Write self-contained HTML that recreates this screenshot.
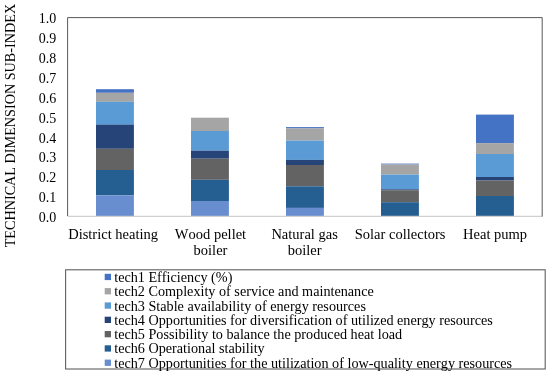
<!DOCTYPE html><html><head><meta charset="utf-8"><style>html,body{margin:0;padding:0;background:#fff;}text{font-kerning:none;}svg{will-change:transform;}svg{display:block;}</style></head><body>
<svg width="550" height="375" viewBox="0 0 550 375">
<rect width="550" height="375" fill="#fff"/>
<rect x="96.0" y="89.2" width="37.9" height="3.6" fill="#4472C4"/>
<rect x="96.0" y="92.8" width="37.9" height="9.0" fill="#A5A5A5"/>
<rect x="96.0" y="101.8" width="37.9" height="23.0" fill="#5B9BD5"/>
<rect x="96.0" y="124.7" width="37.9" height="24.1" fill="#264478"/>
<rect x="96.0" y="148.8" width="37.9" height="21.2" fill="#636363"/>
<rect x="96.0" y="170" width="37.9" height="25.3" fill="#255E91"/>
<rect x="96.0" y="195.3" width="37.9" height="20.9" fill="#698ED0"/>
<rect x="191.0" y="117.7" width="37.9" height="13.3" fill="#A5A5A5"/>
<rect x="191.0" y="131" width="37.9" height="19.7" fill="#5B9BD5"/>
<rect x="191.0" y="150.7" width="37.9" height="8.0" fill="#264478"/>
<rect x="191.0" y="158.7" width="37.9" height="21.1" fill="#636363"/>
<rect x="191.0" y="179.8" width="37.9" height="21.2" fill="#255E91"/>
<rect x="191.0" y="201" width="37.9" height="15.2" fill="#698ED0"/>
<rect x="286.0" y="127.1" width="37.9" height="1.3" fill="#4472C4"/>
<rect x="286.0" y="128.4" width="37.9" height="12.2" fill="#A5A5A5"/>
<rect x="286.0" y="140.6" width="37.9" height="19.3" fill="#5B9BD5"/>
<rect x="286.0" y="159.9" width="37.9" height="5.1" fill="#264478"/>
<rect x="286.0" y="165" width="37.9" height="21.3" fill="#636363"/>
<rect x="286.0" y="186.3" width="37.9" height="21.6" fill="#255E91"/>
<rect x="286.0" y="207.9" width="37.9" height="8.3" fill="#698ED0"/>
<rect x="381.0" y="163.6" width="37.9" height="0.9" fill="#4472C4"/>
<rect x="381.0" y="164.5" width="37.9" height="10.1" fill="#A5A5A5"/>
<rect x="381.0" y="174.6" width="37.9" height="14.7" fill="#5B9BD5"/>
<rect x="381.0" y="189.3" width="37.9" height="0.9" fill="#264478"/>
<rect x="381.0" y="190.2" width="37.9" height="12.0" fill="#636363"/>
<rect x="381.0" y="202.2" width="37.9" height="14.0" fill="#255E91"/>
<rect x="476.0" y="114.6" width="37.9" height="28.5" fill="#4472C4"/>
<rect x="476.0" y="143.1" width="37.9" height="10.9" fill="#A5A5A5"/>
<rect x="476.0" y="154" width="37.9" height="23" fill="#5B9BD5"/>
<rect x="476.0" y="177" width="37.9" height="3.6" fill="#264478"/>
<rect x="476.0" y="180.6" width="37.9" height="15.4" fill="#636363"/>
<rect x="476.0" y="196" width="37.9" height="20.2" fill="#255E91"/>
<line x1="67.6" y1="216.4" x2="542.2" y2="216.4" stroke="#D0D0D0" stroke-width="1.2"/>
<path d="M67.6 216 V17.6 H542.2 V216.6" fill="none" stroke="#595959" stroke-width="1"/>
<text x="56.3" y="222.2" text-anchor="end" font-family="Liberation Serif, serif" font-size="14" fill="#000">0.0</text>
<text x="56.3" y="202.3" text-anchor="end" font-family="Liberation Serif, serif" font-size="14" fill="#000">0.1</text>
<text x="56.3" y="182.3" text-anchor="end" font-family="Liberation Serif, serif" font-size="14" fill="#000">0.2</text>
<text x="56.3" y="162.4" text-anchor="end" font-family="Liberation Serif, serif" font-size="14" fill="#000">0.3</text>
<text x="56.3" y="142.5" text-anchor="end" font-family="Liberation Serif, serif" font-size="14" fill="#000">0.4</text>
<text x="56.3" y="122.6" text-anchor="end" font-family="Liberation Serif, serif" font-size="14" fill="#000">0.5</text>
<text x="56.3" y="102.6" text-anchor="end" font-family="Liberation Serif, serif" font-size="14" fill="#000">0.6</text>
<text x="56.3" y="82.7" text-anchor="end" font-family="Liberation Serif, serif" font-size="14" fill="#000">0.7</text>
<text x="56.3" y="62.8" text-anchor="end" font-family="Liberation Serif, serif" font-size="14" fill="#000">0.8</text>
<text x="56.3" y="42.8" text-anchor="end" font-family="Liberation Serif, serif" font-size="14" fill="#000">0.9</text>
<text x="56.3" y="22.9" text-anchor="end" font-family="Liberation Serif, serif" font-size="14" fill="#000">1.0</text>
<text x="113.1" y="238.6" text-anchor="middle" font-family="Liberation Serif, serif" font-size="14.5" fill="#000">District heating</text>
<text x="210.5" y="238.6" text-anchor="middle" font-family="Liberation Serif, serif" font-size="14.5" fill="#000">Wood pellet</text>
<text x="210.5" y="254.9" text-anchor="middle" font-family="Liberation Serif, serif" font-size="14.5" fill="#000">boiler</text>
<text x="304.6" y="238.6" text-anchor="middle" font-family="Liberation Serif, serif" font-size="14.5" fill="#000">Natural gas</text>
<text x="304.6" y="254.9" text-anchor="middle" font-family="Liberation Serif, serif" font-size="14.5" fill="#000">boiler</text>
<text x="400.1" y="238.6" text-anchor="middle" font-family="Liberation Serif, serif" font-size="14.5" fill="#000">Solar collectors</text>
<text x="495.1" y="238.6" text-anchor="middle" font-family="Liberation Serif, serif" font-size="14.5" fill="#000">Heat pump</text>
<text transform="translate(15.0,125.6) rotate(-90)" text-anchor="middle" font-family="Liberation Serif, serif" font-size="14.2" fill="#000">TECHNICAL DIMENSION SUB-INDEX</text>
<rect x="65.6" y="269.8" width="479.6" height="99.2" fill="none" stroke="#606060" stroke-width="1.1"/>
<rect x="104.7" y="273.8" width="6.3" height="6.3" fill="#4472C4"/>
<text x="114.2" y="281.9" font-family="Liberation Serif, serif" font-size="14.2" fill="#000">tech1 Efficiency (%)</text>
<rect x="104.7" y="288.1" width="6.3" height="6.3" fill="#A5A5A5"/>
<text x="114.2" y="296.2" font-family="Liberation Serif, serif" font-size="14.2" fill="#000">tech2 Complexity of service and maintenance</text>
<rect x="104.7" y="302.4" width="6.3" height="6.3" fill="#5B9BD5"/>
<text x="114.2" y="310.5" font-family="Liberation Serif, serif" font-size="14.2" fill="#000">tech3 Stable availability of energy resources</text>
<rect x="104.7" y="316.7" width="6.3" height="6.3" fill="#264478"/>
<text x="114.2" y="324.8" font-family="Liberation Serif, serif" font-size="14.2" fill="#000">tech4 Opportunities for diversification of utilized energy resources</text>
<rect x="104.7" y="331.0" width="6.3" height="6.3" fill="#636363"/>
<text x="114.2" y="339.1" font-family="Liberation Serif, serif" font-size="14.2" fill="#000">tech5 Possibility to balance the produced heat load</text>
<rect x="104.7" y="345.3" width="6.3" height="6.3" fill="#255E91"/>
<text x="114.2" y="353.4" font-family="Liberation Serif, serif" font-size="14.2" fill="#000">tech6 Operational stability</text>
<rect x="104.7" y="359.6" width="6.3" height="6.3" fill="#698ED0"/>
<text x="114.2" y="367.7" font-family="Liberation Serif, serif" font-size="14.2" fill="#000">tech7 Opportunities for the utilization of low-quality energy resources</text>
</svg></body></html>
